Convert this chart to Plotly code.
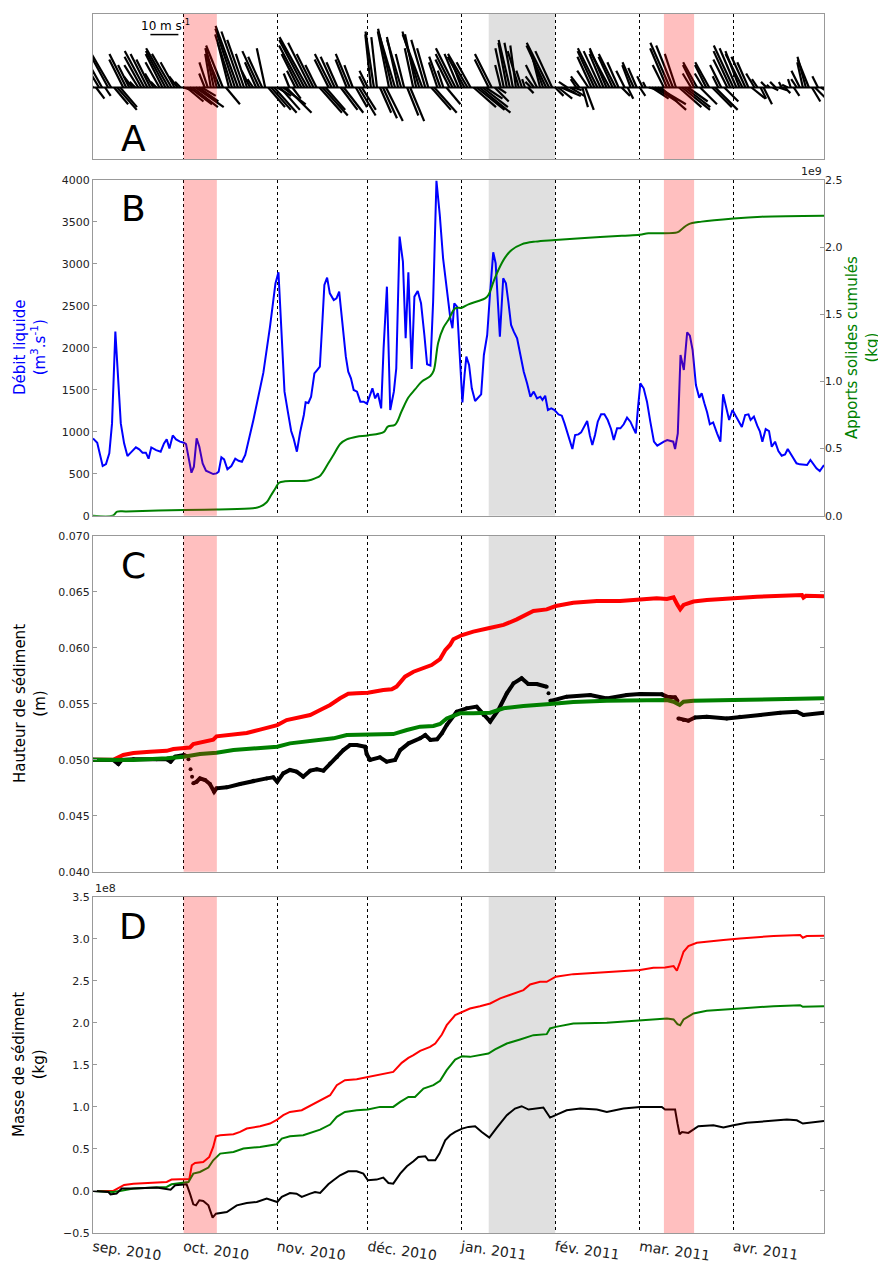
import pandas as pd
import plotly.graph_objects as go

# ---------------- axis / period definitions ----------------
START = pd.Timestamp("2010-09-01")
END = pd.Timestamp("2011-05-01")
month_ticks = ["2010-09-01", "2010-10-01", "2010-11-01", "2010-12-01",
               "2011-01-01", "2011-02-01", "2011-03-01", "2011-04-01"]
month_labels = ["sep. 2010", "oct. 2010", "nov. 2010", "déc. 2010",
                "jan. 2011", "fév. 2011", "mar. 2011", "avr. 2011"]
storm_periods = [("2010-10-01", "2010-10-12"), ("2011-03-09", "2011-03-19")]
gray_period = ("2011-01-10", "2011-02-01")

# ---------------- panel A : wind sticks (one per day, m/s) ----------------
wind_u = [-2, 3, -3, -5, 2, -6, -7, 5, 7, 6, -5, -6, -4, -3, -2, -5, -6, -7, -6, -5,
          -3, -2, -5, -6, -7, -8, -7, -5, -3, -2, 3, 6, 8, 9, 10, 7, 5, -2, -3, -2,
          -3, -4, -5, -6, 5, -4, -6, -7, -8, -7, -6, -4, -3, -2, -4, -6, -5, -3, 6, 7,
          8, 5, 7, 8, 9, -2, 3, -3, -6, -8, -9, -10, -8, -6, -4, 8, 9, 7, -5, -6,
          -5, -4, 6, 7, -4, -5, -3, 4, 6, 5, -2, -3, -2, -3, -2, 4, 5, 6, -4, -5,
          -6, -4, -5, -3, 4, 5, -3, -4, -6, -7, -5, -4, 7, 8, -3, -4, -2, 5, -5, -6,
          -7, -5, -3, -6, -7, -5, 8, 10, 11, 9, 6, -5, -6, 5, 3, -2, -3, -3, -4, -3,
          -2, -4, -2, -1, 2, -2, -3, -4, -3, -5, -7, -8, -6, 3, 5, 7, 4, -3, 5, 3,
          -2, -3, 2, 3, -4, -5, -6, -7, -6, -5, -6, -7, -5, -6, -4, 3, -3, 2, -3, -4,
          -3, 2, -2, -1, 4, 6, 8, 10, 9, -4, -6, -7, -6, -4, 8, 10, 9, 7, -3, -4,
          -5, 6, -3, -4, -5, 7, 8, -2, -4, 5, -5, -6, -7, -6, -5, -6, -5, -4, 5, -3,
          -2, 2, 3, -2, -1, 2, -2, 3, -1, 2, -2, -1, 2, -2, -3, -2, -3, -4, 3, 4,
          -2, 3]
wind_v = [3, -4, 5, 9, -3, 11, 12, -6, -8, -7, 10, 12, 8, 4, 2, 8, 11, 13, 12, 10,
          5, 2, 9, 12, 13, 14, 12, 9, 4, 2, -1, -5, -6, -7, -7, -5, -3, 5, 9, 12,
          14, 14, 12, 15, -6, 16, 19, 21, 22, 20, 17, 12, 6, 3, 9, 13, 11, 14, -7, -8,
          -9, -3, -8, -6, -9, 5, -4, 6, 12, 15, 17, 18, 16, 12, 8, -9, -10, -8, 10, 12,
          11, 9, -8, -9, 10, 12, 8, -7, -10, -8, 4, 6, 19, 20, 18, -9, -11, -12, 20, 21,
          20, 18, 17, 12, -10, -12, 14, 19, 20, 19, 17, 14, -8, -9, 9, 11, 6, -6, 10, 12,
          14, 12, 8, 11, 12, 9, -7, -8, -9, -7, -4, 10, 12, -5, -2, 8, 14, 16, 17, 16,
          15, 13, 6, 3, -2, 2, 4, 8, 12, 14, 15, 16, 13, -3, -4, -3, -2, 2, -3, -1,
          3, 4, -7, -8, 6, 11, 13, 14, 13, 12, 14, 13, 11, 12, 9, -3, 6, -4, 8, 9,
          7, -3, 4, 2, -1, -4, -5, -6, -8, 8, 14, 16, 15, 12, -7, -8, -7, -5, 5, 8,
          9, -6, 5, 8, 9, -7, -8, 4, 8, -5, 10, 13, 15, 14, 13, 12, 11, 9, -4, 5,
          3, -4, -6, 2, 1, -1, 2, -1, 2, -2, 1, 3, -3, 3, 6, 9, 11, 10, -5, -4,
          4, -2]
wind_day = list(range(len(wind_u)))
scale_bar_speed = 10  # m/s

# ---------------- panel B ----------------
q_day = [0, 1.4, 3.2, 4.3, 5.4, 6.3, 7.4, 8.4, 9.2, 10.3, 11.4, 12.5, 14.2, 15.3, 16.4, 17.5, 18.4, 19.3, 20.9, 22.4,
         23.5, 24.4, 25.3, 26.4, 27.5, 28.8, 30.1, 30.8, 31.7, 32.6, 33.4, 34.3, 35.2, 36.3, 37.4, 38.5, 39.8, 40.9, 41.6, 42.5,
         43.4, 44.5, 45.8, 47.1, 48.2, 49.3, 50.4, 53.1, 56.4, 58.6, 60.4, 61.4, 62.2, 63.4, 64.5, 65.6, 66.4, 67.5, 68.6, 69.8,
         70.4, 71.3, 72.2, 73.3, 74.2, 75.1, 76.0, 76.6, 77.5, 78.4, 79.7, 80.6, 81.5, 82.8, 83.7, 84.5, 85.4, 86.3, 87.4, 88.5,
         89.6, 90.7, 91.6, 92.5, 93.4, 94.3, 95.4, 96.2, 97.3, 98.4, 99.6, 100.4, 101.5, 102.6, 103.5, 104.4, 105.5, 106.4, 107.5, 108.6,
         109.7, 110.6, 111.7, 112.6, 113.7, 114.8, 115.9, 117.0, 118.3, 119.0, 119.6, 120.5, 121.4, 122.3, 123.0, 123.6, 124.5, 125.4, 126.5, 127.6,
         128.5, 129.4, 130.5, 131.4, 132.5, 133.3, 134.7, 135.8, 136.7, 137.5, 138.4, 139.3, 140.4, 141.5, 142.6, 143.7, 144.8, 145.9, 147.0, 148.1,
         148.8, 149.7, 150.6, 151.7, 152.8, 154.1, 155.2, 156.1, 157.0, 157.9, 158.7, 159.6, 160.7, 161.6, 162.7, 163.6, 164.5, 165.3, 166.2, 167.1,
         168.2, 169.3, 170.4, 171.5, 172.4, 173.5, 174.6, 175.7, 176.8, 177.9, 178.8, 179.7, 180.4, 181.2, 182.3, 183.4, 184.5, 185.7, 186.8, 187.9,
         189.0, 190.1, 191.2, 192.1, 192.7, 193.6, 194.5, 195.6, 196.7, 197.6, 198.5, 199.6, 200.7, 201.5, 202.4, 203.3, 204.2, 205.3, 206.6, 207.7,
         208.6, 209.5, 210.6, 211.7, 212.8, 213.9, 214.8, 215.9, 217.0, 217.7, 218.8, 219.9, 220.8, 221.6, 222.7, 223.8, 224.7, 225.8, 226.9, 228.0,
         229.1, 230.0, 231.1, 232.0, 232.9, 234.0, 235.1, 236.4, 237.5, 238.4, 239.5, 240.6, 241.5, 242.0]
q_val = [921, 870, 592, 616, 743, 1100, 2193, 1577, 1100, 862, 711, 751, 814, 790, 751, 751, 679, 814, 782, 763,
         862, 909, 802, 957, 909, 882, 870, 854, 663, 512, 584, 921, 822, 624, 536, 520, 496, 504, 524, 695,
         671, 552, 592, 679, 655, 643, 723, 1140, 1704, 2252, 2768, 2900, 2312, 1478, 1240, 1009, 922, 763, 1001, 1200,
         1351, 1343, 1418, 1696, 1736, 1776, 2352, 2749, 2837, 2650, 2570, 2590, 2670, 2193, 1895, 1716, 1637, 1498, 1478, 1359,
         1359, 1335, 1418, 1518, 1398, 1458, 1279, 1994, 2729, 1259, 1478, 1756, 3325, 3027, 2114, 2900, 1748, 2610, 2678, 2531,
         2153, 1804, 1788, 2551, 3990, 3584, 3067, 2710, 2352, 2233, 2531, 2491, 1950, 1351, 1677, 1895, 1796, 1518, 1367, 1406,
         1446, 1915, 2153, 2630, 3139, 3008, 2133, 2829, 2769, 2551, 2273, 2193, 2114, 1915, 1716, 1577, 1418, 1478, 1398, 1418,
         1379, 1430, 1259, 1279, 1259, 1208, 1192, 1100, 993, 882, 795, 961, 969, 993, 1061, 1128, 954, 842, 961, 1120,
         1208, 1208, 1140, 1033, 902, 1041, 1041, 1089, 1168, 1120, 1049, 981, 1279, 1577, 1518, 1359, 1120, 882, 834, 862,
         882, 902, 890, 882, 795, 981, 1915, 1736, 2185, 2145, 1975, 1557, 1406, 1458, 1339, 1232, 1089, 1112, 981, 882,
         1446, 1319, 1140, 1259, 1192, 1128, 1057, 1200, 1208, 1140, 1180, 1073, 1001, 882, 1033, 1009, 822, 882, 771, 715,
         731, 795, 731, 664, 624, 612, 612, 604, 664, 624, 564, 532, 584, 604]

cum_day = [0, 6.5, 8, 11, 30, 41, 53, 55.3, 57.5, 59, 60.4, 61.6, 63.6, 66.3, 71.3, 73.5, 75.3, 77.9, 79.6, 81.9,
           84, 87.3, 91, 96.2, 97.6, 100, 102.2, 104.4, 106.6, 108.8, 111.7, 112.8, 114.3, 116, 117.7, 119.9, 122.1, 124.3, 127.6, 129.8,
           130.9, 132.6, 134.2, 136.4, 138.6, 141.9, 146.4, 153, 164, 175.1, 181, 183.9, 193.4, 195, 197.1, 201.5, 212.1, 221.4, 242]
cum_val = [0, 0, 0.03, 0.032, 0.042, 0.047, 0.055, 0.067, 0.10, 0.154, 0.204, 0.245, 0.256, 0.258, 0.262, 0.278, 0.30, 0.39, 0.452, 0.536,
           0.568, 0.588, 0.598, 0.622, 0.663, 0.678, 0.78, 0.88, 0.94, 0.998, 1.04, 1.08, 1.29, 1.40, 1.46, 1.544, 1.549, 1.574, 1.599, 1.618,
           1.643, 1.743, 1.83, 1.922, 1.979, 2.021, 2.041, 2.053, 2.07, 2.085, 2.092, 2.103, 2.11, 2.135, 2.17, 2.19, 2.214, 2.227, 2.234]  # x1e9 kg

# ---------------- panel C : sediment height (m) ----------------
c_red_day = [0, 6.7, 10, 13.4, 18.9, 24.4, 26.6, 30.1, 32.1, 33.2, 36.5, 39.8, 40.9, 46.5, 50.9, 55.3, 58.6, 61, 64.1, 68.5,
             71.9, 75.2, 78.5, 81.8, 84.5, 87.3, 91, 96.1, 98.9, 100.5, 103.3, 106.1, 108.8, 112.1, 114.9, 116.6, 118.2, 119.3, 122.2, 125.9,
             130.9, 135.9, 140.3, 144.2, 145.8, 150.2, 153.2, 159, 166.8, 174.5, 181.1, 186.6, 190, 192.2, 193.5, 194.4, 195.5, 198.8, 203.2, 212,
             219.8, 234.7, 235.2, 236, 242]
c_red_val = [0.0500, 0.0500, 0.05043, 0.0506, 0.05072, 0.0508, 0.05096, 0.05102, 0.0511, 0.0514, 0.0516, 0.0518, 0.0521, 0.0523, 0.0524, 0.0527, 0.0529, 0.0531, 0.05355, 0.0538,
             0.0540, 0.05445, 0.0549, 0.0555, 0.0559, 0.05594, 0.0560, 0.05623, 0.0563, 0.05654, 0.05743, 0.05787, 0.05817, 0.05847, 0.0590, 0.0598, 0.06026, 0.06077, 0.06115, 0.06145,
             0.06175, 0.06205, 0.06255, 0.06309, 0.0633, 0.06344, 0.06374, 0.06404, 0.06419, 0.06419, 0.06428, 0.06443, 0.06437, 0.06452, 0.06384, 0.06345, 0.06384, 0.06414, 0.06428, 0.06443,
             0.06458, 0.06473, 0.06449, 0.06465, 0.06462]
c_grn_day = [0, 13.4, 24.4, 30.1, 35.4, 40.9, 46.5, 53.1, 61, 65.2, 74.1, 79.6, 84, 91, 99.4, 103.9, 108.3, 112.7, 114.9, 117.1,
             121.5, 125.9, 131.5, 135.9, 142.5, 151.3, 159, 170.1, 181.1, 190, 192.2, 194.2, 195.5, 198.8, 212, 225.3, 242]
c_grn_val = [0.0500, 0.04998, 0.05013, 0.05028, 0.05052, 0.05064, 0.05088, 0.05103, 0.05117, 0.05147, 0.05171, 0.05192, 0.05222, 0.05227, 0.0523, 0.05266, 0.05296, 0.05302, 0.0532, 0.0537,
             0.05415, 0.05415, 0.05421, 0.0546, 0.05481, 0.05499, 0.05516, 0.05528, 0.05534, 0.05534, 0.05519, 0.0549, 0.05519, 0.05528, 0.05534, 0.0554, 0.05549]
c_blk_day = [0, 6.7, 8.4, 9.5, 13.4, 21.1, 24.4, 25.7, 27.2, 30.1, 31.0, 31.3, 31.6, 31.9, 32.3, 32.6, 32.8, 33.0, 33.2, 34.3,
             35.4, 37.1, 38.7, 40.1, 40.9, 44.3, 48.7, 53.1, 57.5, 59.7, 61, 63, 65.2, 67.4, 69.6, 71.9, 74.1, 76.3, 78.5, 80.7,
             82.9, 85.1, 87.3, 90.1, 90.6, 91.7, 95, 97.2, 100, 101.7, 104.5, 108.3, 110, 111.7, 113.9, 115.5, 117.1, 120.4, 123.7, 127,
             129.3, 131.5, 134.2, 137, 139.2, 141.9, 144.1, 146.9, 150.2, 150.5, 150.8, 151.1, 151.4, 151.9, 156.8, 164.6, 170.1, 176.7, 181.1, 188.3,
             190, 192.7, 193.5, 193.65, 193.8, 195.5, 197.1, 199.3, 203.2, 209.8, 214.2, 220.9, 227.5, 233, 235.2, 242]
c_blk_val = [0.0500, 0.04998, 0.04962, 0.04998, 0.05004, 0.05004, 0.05004, 0.04983, 0.05028, 0.05043, 0.05034, None, 0.05004, None, 0.04915, None, 0.04849, None, 0.0479, 0.04804,
             0.04834, 0.04819, 0.04784, 0.04715, 0.04745, 0.04754, 0.04784, 0.04813, 0.04834, 0.04843, 0.04804, 0.04879, 0.04909, 0.04894, 0.04849, 0.04903, 0.04915, 0.04903, 0.04968, 0.05022,
             0.05087, 0.05132, 0.05132, 0.05117, 0.05052, 0.04998, 0.05022, 0.04983, 0.04998, 0.05087, 0.05147, 0.05192, 0.05222, 0.05177, 0.05183, 0.05237, 0.05311, 0.0543, 0.0546, 0.05475,
             0.054, 0.05341, 0.05445, 0.05594, 0.05683, 0.05728, 0.05677, 0.05677, 0.05653, None, 0.05594, None, 0.05528, 0.05528, 0.05564, 0.05579, 0.05549, 0.05579, 0.05588, 0.05585,
             0.05564, 0.05558, 0.05528, None, 0.0537, 0.05355, 0.05349, 0.05379, 0.05385, 0.0537, 0.05385, 0.054, 0.05421, 0.0543, 0.054, 0.05421]

# ---------------- panel D : sediment mass (x1e8 kg) ----------------
d_red_day = [0, 6.7, 10.3, 13.4, 24.4, 26, 31.9, 32.7, 33.8, 36.5, 38.5, 39.8, 40.7, 42.1, 46.5, 48.7, 50.9, 55.3, 58.6, 61,
             63, 65.2, 69.1, 72.4, 75.2, 78.5, 80.7, 83.4, 87.3, 91, 93.9, 97.2, 99.4, 102.2, 104.4, 106.1, 108.3, 111.6, 113.3, 115.5,
             117.1, 119.9, 122.2, 124.8, 128.1, 131.5, 134.8, 138.1, 142.5, 144.7, 148, 150.2, 153.2, 159, 170.1, 181.1, 185.5, 188.3, 189.4, 192.2,
             193.3, 194.2, 195.5, 197.1, 199.9, 208.7, 214.2, 225.3, 234.1, 235, 236.3, 242]
d_red_val = [0, 0, 0.071, 0.087, 0.107, 0.135, 0.143, 0.306, 0.333, 0.345, 0.405, 0.524, 0.651, 0.663, 0.675, 0.702, 0.742, 0.77, 0.802, 0.849,
             0.901, 0.94, 0.96, 1.02, 1.071, 1.139, 1.258, 1.317, 1.329, 1.357, 1.377, 1.397, 1.416, 1.524, 1.583, 1.615, 1.667, 1.714, 1.754, 1.86,
             1.972, 2.091, 2.131, 2.17, 2.198, 2.23, 2.29, 2.329, 2.389, 2.456, 2.488, 2.488, 2.548, 2.579, 2.603, 2.627, 2.655, 2.659, 2.659, 2.675,
             2.619, 2.706, 2.845, 2.913, 2.952, 2.984, 3.004, 3.032, 3.044, 3.012, 3.032, 3.036]
d_grn_day = [0, 6.7, 8.9, 13.4, 24.4, 26, 31.6, 33.2, 35.4, 38.2, 39.8, 42.1, 46.5, 49.8, 55.3, 60.8, 62.5, 65.2, 69.6, 75.2,
             78.5, 80.7, 83.4, 87.3, 91, 95, 99.4, 101.7, 104.4, 106.6, 109.4, 112.7, 114.9, 117.1, 119.9, 122.2, 124.8, 130.9, 133.1, 137,
             141.4, 145.8, 150.2, 151.3, 153.2, 159, 170.1, 181.1, 190, 192.2, 193.5, 194.4, 195.5, 198.8, 203.2, 214.2, 225.3, 234.1, 235, 242]
d_grn_val = [0, -0.012, 0, 0.028, 0.048, 0.079, 0.107, 0.206, 0.226, 0.278, 0.365, 0.444, 0.464, 0.504, 0.524, 0.556, 0.623, 0.651, 0.663, 0.73,
             0.79, 0.881, 0.94, 0.96, 0.968, 1.0, 1.0, 1.06, 1.119, 1.119, 1.218, 1.258, 1.31, 1.437, 1.563, 1.603, 1.595, 1.635, 1.683, 1.754,
             1.802, 1.853, 1.865, 1.933, 1.952, 1.992, 2.0, 2.032, 2.052, 2.04, 1.984, 1.972, 2.04, 2.111, 2.143, 2.171, 2.198, 2.21, 2.19, 2.198]
d_blk_day = [0, 5.1, 5.8, 7.8, 9.5, 13.4, 21.1, 24.4, 25.7, 27.2, 31, 32.1, 33.2, 34.1, 35.2, 36.5, 38.2, 39.6, 40.7, 44.3,
             47.6, 50.9, 54.2, 57.5, 59.2, 61, 62.5, 65.2, 67.4, 69.1, 71.9, 73.5, 75.2, 77.9, 79.6, 81.8, 84.5, 87.3, 89.5, 91,
             93.9, 96.1, 97.8, 99.4, 101.7, 103.9, 106.1, 107.7, 110, 111, 113.3, 114.7, 116.6, 118.2, 119.9, 122.2, 124.3, 126.5, 128.7, 131.2,
             133.7, 137, 139.7, 141.9, 144.2, 146.9, 149.1, 151.3, 153.2, 156.8, 161.3, 166.8, 170.1, 175.6, 181.1, 188.3, 189.4, 192.7, 193.5, 194.2,
             195, 197.1, 200.4, 205.4, 208.7, 212, 216.4, 223, 229.7, 233, 235, 242]
d_blk_val = [0, -0.012, -0.04, -0.032, 0.028, 0.028, 0.04, 0.028, 0.016, 0.067, 0.079, -0.032, -0.159, -0.171, -0.111, -0.119, -0.171, -0.317, -0.27, -0.25,
             -0.171, -0.143, -0.131, -0.091, -0.111, -0.131, -0.071, -0.024, -0.032, -0.071, -0.032, -0.012, -0.024, 0.079, 0.127, 0.187, 0.234, 0.234, 0.206, 0.127,
             0.135, 0.159, 0.095, 0.087, 0.206, 0.294, 0.353, 0.405, 0.413, 0.365, 0.365, 0.444, 0.603, 0.663, 0.702, 0.742, 0.762, 0.77, 0.702, 0.635,
             0.754, 0.901, 0.98, 1.008, 0.968, 0.98, 0.992, 0.873, 0.901, 0.96, 0.98, 0.968, 0.94, 0.98, 1.0, 1.0, 0.968, 0.968, 0.802, 0.675,
             0.702, 0.69, 0.77, 0.782, 0.754, 0.782, 0.81, 0.833, 0.849, 0.841, 0.802, 0.833]

# ---------------- styling / geometry ----------------
FONT = "DejaVu Sans"
PAGE_OFF = 8                      # default body margin of the html page
W, H = 886 - PAGE_OFF, 1264
# target plot box in window pixels: left 93, right 824, top 14, bottom 1233
ML, MT = 93 - PAGE_OFF, 14 - PAGE_OFF
PW, PH = 824 - 93, 1233 - 14
MR, MB = W - ML - PW, H - MT - PH
PX_PER_DAY = PW / (END - START).days
PX_PER_MS = 2.8
STICK_K = PX_PER_MS / PX_PER_DAY  # days per (m/s) so sticks stay isotropic


def ypaper(px):   # window pixel -> paper
    return (1233 - px) / PH


def xpaper(px):
    return (px - 93) / PW


def to_dates(days):
    return [START + pd.Timedelta(days=float(d)) for d in days]


fig = go.Figure()

# panel A sticks
sx, sy = [], []
for d, u, v in zip(wind_day, wind_u, wind_v):
    x0 = START + pd.Timedelta(days=d)
    sx += [x0, x0 + pd.Timedelta(days=u * STICK_K), None]
    sy += [0, v, None]
fig.add_trace(go.Scatter(x=sx, y=sy, mode="lines", line=dict(color="black", width=2.2),
                         xaxis="x", yaxis="y", showlegend=False, hoverinfo="skip"))
fig.add_trace(go.Scatter(x=[START, END], y=[0, 0], mode="lines", line=dict(color="black", width=1.8),
                         xaxis="x", yaxis="y", showlegend=False, hoverinfo="skip"))
bar_start = START + pd.Timedelta(days=19)
fig.add_trace(go.Scatter(x=[bar_start, bar_start + pd.Timedelta(days=scale_bar_speed * STICK_K)],
                         y=[18.9, 18.9], mode="lines", line=dict(color="black", width=1.5),
                         xaxis="x", yaxis="y", showlegend=False, hoverinfo="skip"))

# panel B
fig.add_trace(go.Scatter(x=to_dates(q_day), y=q_val, mode="lines",
                         line=dict(color="#0000ff", width=2), xaxis="x2", yaxis="y2", showlegend=False))
fig.add_trace(go.Scatter(x=to_dates(cum_day), y=cum_val, mode="lines", line_shape="spline",
                         line=dict(color="#008000", width=2), xaxis="x2", yaxis="y3", showlegend=False))

# panel C
fig.add_trace(go.Scatter(x=to_dates(c_red_day), y=c_red_val, mode="lines",
                         line=dict(color="#ff0000", width=4), xaxis="x3", yaxis="y4", showlegend=False))
fig.add_trace(go.Scatter(x=to_dates(c_blk_day), y=c_blk_val, mode="lines+markers",
                         line=dict(color="black", width=4), marker=dict(color="black", size=4),
                         connectgaps=False, xaxis="x3", yaxis="y4", showlegend=False))
fig.add_trace(go.Scatter(x=to_dates(c_grn_day), y=c_grn_val, mode="lines",
                         line=dict(color="#008000", width=4), xaxis="x3", yaxis="y4", showlegend=False))

# panel D
fig.add_trace(go.Scatter(x=to_dates(d_red_day), y=d_red_val, mode="lines",
                         line=dict(color="#ff0000", width=2), xaxis="x4", yaxis="y5", showlegend=False))
fig.add_trace(go.Scatter(x=to_dates(d_grn_day), y=d_grn_val, mode="lines",
                         line=dict(color="#008000", width=2), xaxis="x4", yaxis="y5", showlegend=False))
fig.add_trace(go.Scatter(x=to_dates(d_blk_day), y=d_blk_val, mode="lines",
                         line=dict(color="black", width=2), xaxis="x4", yaxis="y5", showlegend=False))

# shaded periods
shapes = []
for xr, yr in [("x", "y"), ("x2", "y2"), ("x3", "y4"), ("x4", "y5")]:
    shapes.append(dict(type="rect", xref=xr, yref=yr + " domain", x0=gray_period[0], x1=gray_period[1],
                       y0=0, y1=1, fillcolor="#e0e0e0", line=dict(width=0), layer="below"))
    for a, b in storm_periods:
        shapes.append(dict(type="rect", xref=xr, yref=yr + " domain", x0=a, x1=b, y0=0, y1=1,
                           fillcolor="rgba(255,0,0,0.25)", line=dict(width=0), layer="above"))

# domains
dom_A = [ypaper(159), ypaper(14)]
dom_B = [ypaper(515.7), ypaper(180)]
dom_C = [ypaper(871.7), ypaper(536)]
dom_D = [ypaper(1233), ypaper(896.7)]

spine = "#999999"
tickfont = dict(family=FONT, size=11, color="#222222")


def xaxis(anchor, labels=False):
    return dict(type="date", range=[START, END], domain=[0, 1], anchor=anchor, automargin=False,
                tickvals=month_ticks, ticktext=month_labels, showticklabels=labels,
                tickangle=8, tickfont=dict(family=FONT, size=14, color="#222222"),
                showgrid=True, gridcolor="black", gridwidth=1, griddash="3px,3px",
                showline=True, linecolor=spine, linewidth=1, mirror=True, ticks="", zeroline=False)


def yaxis(anchor, dom, rng, tickvals, fmt, mirror="ticks"):
    return dict(domain=dom, anchor=anchor, range=rng, tickvals=tickvals, tickformat=fmt, automargin=False,
                tickfont=tickfont, ticks="inside", ticklen=4, tickcolor=spine,
                showgrid=False, zeroline=False, showline=True, linecolor=spine, linewidth=1, mirror=mirror)


fig.update_layout(
    width=W, height=H, margin=dict(l=ML, r=MR, t=MT, b=MB, autoexpand=False),
    paper_bgcolor="white", plot_bgcolor="white",
    font=dict(family=FONT, size=12, color="#222222"),
    showlegend=False, shapes=shapes,
    xaxis=xaxis("y"), xaxis2=xaxis("y2"), xaxis3=xaxis("y4"), xaxis4=xaxis("y5", labels=True),
    yaxis=dict(domain=dom_A, anchor="x", range=[-71.5 / PX_PER_MS, 73.5 / PX_PER_MS], automargin=False,
               showticklabels=False, showgrid=False, zeroline=False, ticks="",
               showline=True, linecolor=spine, mirror=True),
    yaxis2=yaxis("x2", dom_B, [0, 4000], list(range(0, 4001, 500)), "d", mirror=True),
    yaxis3=dict(overlaying="y2", side="right", anchor="x2", range=[0, 2.5], automargin=False,
                tickvals=[0, 0.5, 1.0, 1.5, 2.0, 2.5], tickformat=".1f", tickfont=tickfont,
                ticks="inside", ticklen=4, tickcolor=spine, showgrid=False, zeroline=False, showline=False),
    yaxis4=yaxis("x3", dom_C, [0.040, 0.070], [0.040, 0.045, 0.050, 0.055, 0.060, 0.065, 0.070], ".3f"),
    yaxis5=yaxis("x4", dom_D, [-0.5, 3.5], [-0.5, 0, 0.5, 1.0, 1.5, 2.0, 2.5, 3.0, 3.5], ".1f"),
)


def label(text, xpx, ypx, size, color="#222222", angle=0, xanchor="center", yanchor="middle"):
    return dict(text=text, xref="paper", yref="paper", x=xpaper(xpx), y=ypaper(ypx),
                xanchor=xanchor, yanchor=yanchor, textangle=angle, showarrow=False,
                font=dict(family=FONT, size=size, color=color))


ann = []
for letter, ypx in [("A", 138), ("B", 209), ("C", 565), ("D", 926)]:
    ann.append(label(letter, 133, ypx, 36, "black"))
ann.append(label("10 m s<sup>-1</sup>", 165, 25, 12, "black"))
ann.append(label("Débit liquide<br>(m<sup>3</sup>.s<sup>-1</sup>)", 30, 348, 15, "#0000ff", -90))
ann.append(label("Apports solides cumulés<br>(kg)", 862, 348, 15, "#008000", -90))
ann.append(label("Hauteur de sédiment<br>(m)", 30, 704, 15, "black", -90))
ann.append(label("Masse de sédiment<br>(kg)", 29, 1065, 15, "black", -90))
ann.append(label("1e9", 824, 180, 11, xanchor="right", yanchor="bottom"))
ann.append(label("1e8", 93, 896.7, 11, xanchor="left", yanchor="bottom"))
fig.update_layout(annotations=ann)

fig.write_html("out.html")
